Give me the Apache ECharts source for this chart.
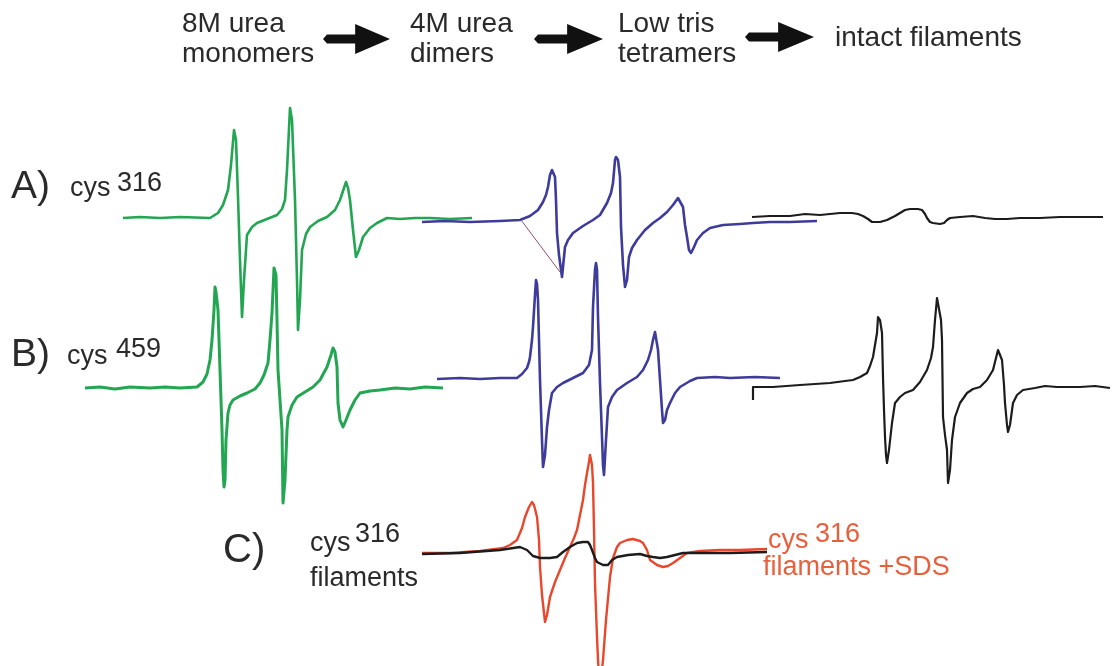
<!DOCTYPE html>
<html>
<head>
<meta charset="utf-8">
<script src="https://cdn.jsdelivr.net/npm/echarts@6/dist/echarts.min.js"></script>
<style>
html,body{margin:0;padding:0;background:#fff;}
#chart{width:1114px;height:666px;}
</style>
</head>
<body>
<div id="chart"></div>
<script>
// Stage labels (top row)
const stageLine1 = ['8M urea', '4M urea', 'Low tris', 'intact filaments'];
const stageLine2 = ['monomers', 'dimers', 'tetramers', ''];

// Row labels
const rowLetters = ['A)', 'B)', 'C)'];
const rowResidues = ['316', '459', '316'];

// Spectra, as [field position, signal level] pairs
const specA_urea8M = [[123,218],[140,217],[160,218],[180,217],[210,218],[218,213],[223,205],[228,190],[231,165],[234,130],[236,140],[238,197],[240,260],[242,317],[244,280],[247,235],[252,227],[257,223],[267,219],[277,215],[282,209],[285,200],[287,170],[290,108],[292,120],[295,200],[297,280],[298,330],[300,300],[302,250],[306,234],[310,227],[318,221],[327,217],[335,210],[340,200],[344,188],[346,182],[348,188],[350,200],[353,230],[356,257],[359,250],[363,237],[370,228],[377,223],[387,218],[400,219],[415,218],[430,218],[450,219],[472,218]];
const specA_urea4M = [[422,222],[445,221],[470,222],[500,221],[520,220],[530,216],[538,210],[543,202],[546,195],[548,187],[550,175],[552,170],[554,170],[555,177],[556,200],[557,233],[559,255],[562,277],[563,275],[565,247],[568,240],[573,233],[583,226],[593,220],[600,215],[607,203],[611,193],[613,183],[615,160],[616,157],[618,160],[620,177],[621,227],[623,265],[625,287],[627,280],[629,257],[632,248],[637,240],[645,230],[653,223],[660,218],[667,212],[673,205],[678,198],[680,199],[683,207],[685,225],[687,237],[689,250],[691,253],[694,247],[697,240],[703,233],[710,228],[723,225],[740,224],[753,223],[770,222],[790,222],[817,221]];
const specA_guide = [[521,220],[560,272]];
const specA_filaments = [[752,217],[770,216],[790,216],[805,214],[820,215],[840,213],[852,213],[858,214],[863,216],[868,219],[872,222],[880,222],[887,220],[895,216],[900,213],[905,210],[910,209],[918,209],[922,210],[925,214],[927,218],[930,222],[933,223],[940,224],[944,223],[947,220],[950,218],[960,217],[973,216],[985,218],[995,219],[1007,219],[1020,218],[1040,218],[1060,217],[1080,217],[1103,217]];

const specB_urea8M = [[85,388],[100,387],[115,389],[130,387],[150,388],[165,387],[180,388],[197,387],[203,382],[207,374],[210,360],[212,340],[214,310],[215,287],[216,292],[218,310],[219,340],[220,370],[221,400],[222,430],[223,470],[224,487],[225,480],[226,440],[228,413],[230,405],[233,400],[240,396],[247,393],[255,389],[260,383],[264,375],[268,363],[270,340],[272,313],[274,268],[276,275],[277,320],[278,370],[280,400],[282,430],[283,503],[285,480],[287,430],[288,417],[292,405],[297,397],[305,392],[313,387],[320,380],[327,367],[331,355],[333,348],[335,352],[337,367],[338,403],[340,420],[343,427],[346,420],[350,410],[355,400],[360,393],[370,391],[380,390],[395,388],[410,389],[425,387],[443,388]];
const specB_urea4M = [[437,379],[460,378],[480,379],[500,378],[517,378],[522,374],[527,368],[529,362],[530,357],[532,340],[533,327],[535,295],[536,280],[537,284],[538,300],[539,340],[540,380],[542,440],[543,467],[545,455],[547,427],[549,410],[552,393],[557,387],[563,383],[573,378],[583,373],[589,365],[592,350],[593,307],[595,270],[596,263],[597,270],[598,317],[599,350],[600,383],[602,437],[603,465],[604,475],[606,440],[608,407],[612,397],[617,390],[627,383],[637,377],[643,370],[648,360],[651,350],[653,340],[655,332],[656,334],[658,350],[660,380],[662,410],[663,423],[665,420],[667,410],[670,403],[675,393],[680,387],[690,381],[697,378],[715,377],[730,378],[755,377],[780,378]];
const specB_filaments = [[753,400],[753,387],[773,387],[800,385],[815,384],[830,383],[845,381],[853,380],[860,377],[867,373],[870,366],[873,357],[875,345],[877,333],[878,317],[880,320],[882,333],[883,377],[884,410],[885,437],[886,455],[887,463],[889,450],[892,423],[895,403],[900,397],[905,393],[913,390],[920,382],[927,370],[931,358],[933,347],[935,320],[937,298],[939,300],[941,320],[942,340],[943,417],[945,435],[947,450],[948,483],[950,470],[952,440],[955,417],[960,403],[967,393],[973,389],[980,387],[987,380],[993,370],[996,358],[998,350],[1000,352],[1002,360],[1004,385],[1005,403],[1007,425],[1008,432],[1010,425],[1013,403],[1017,395],[1023,390],[1035,388],[1045,386],[1057,387],[1080,387],[1095,386],[1110,388]];

const specC_sds = [[422,553],[450,553],[480,551],[503,548],[510,545],[517,540],[522,528],[525,517],[529,507],[532,502],[534,505],[537,517],[539,540],[540,567],[542,595],[545,622],[547,615],[550,597],[555,582],[560,570],[565,558],[570,547],[574,538],[577,530],[580,515],[583,500],[585,485],[587,473],[589,462],[590,455],[592,465],[593,483],[594,530],[595,583],[596,610],[597,637],[598,660],[600,690],[603,660],[606,620],[610,577],[613,558],[617,547],[620,543],[627,540],[633,539],[640,541],[643,543],[647,550],[650,560],[657,565],[663,567],[668,566],[673,563],[680,558],[687,553],[700,551],[720,550],[740,550],[767,549]];
const specC_filaments = [[422,554],[460,553],[500,550],[520,547],[527,550],[533,556],[540,558],[550,558],[557,557],[563,552],[570,547],[577,543],[583,542],[588,542],[590,545],[592,550],[595,558],[597,562],[603,565],[608,565],[612,560],[617,557],[628,555],[640,554],[647,556],[653,557],[660,558],[667,557],[675,555],[683,553],[700,553],[730,553],[767,552]];

const GREEN = '#22a651', BLUE = '#3d3b9c', BLACK = '#1c1c1c', RED = '#e8472b';
const TXT = '#2a2a2a', RTXT = '#e85f3c';
const FONT = '"Liberation Sans", Arial, Helvetica, sans-serif';

function line(data, color, width, z) {
  return { type: 'line', data: data, showSymbol: false, symbol: 'none', clip: true,
    lineStyle: { color: color, width: width, join: 'round' }, z: z || 2, silent: true };
}

function txt(t, x, y, size, color) {
  return { type: 'text', x: x, y: y, silent: true,
    style: { text: t, font: size + 'px ' + FONT, fill: color || TXT, textAlign: 'left', textVerticalAlign: 'middle' } };
}
function arrow(x0, x1, y) {
  const hb = x0 + (x1 - x0) * 0.48;
  return { type: 'polygon', silent: true,
    shape: { points: [[x0 + 4, y - 4.5], [hb, y - 4.5], [hb, y - 15], [x1, y], [hb, y + 15], [hb, y + 4.5], [x0 + 4, y + 4.5], [x0, y]] },
    style: { fill: '#111' } };
}

const graphics = [];
const stageX = [182, 410, 618, 835];
stageLine1.forEach((s, i) => graphics.push(txt(s, stageX[i], i === 3 ? 38 : 24, 28)));
stageLine2.forEach((s, i) => { if (s) graphics.push(txt(s, stageX[i], 54, 28)); });
graphics.push(arrow(323, 390, 39), arrow(534, 603, 39), arrow(745, 814, 37));
graphics.push(txt(rowLetters[0], 11, 187, 39), txt('cys', 70, 189, 27), txt(rowResidues[0], 117, 184, 27));
graphics.push(txt(rowLetters[1], 11, 355, 39), txt('cys', 67, 357, 27), txt(rowResidues[1], 116, 350, 27));
graphics.push(txt(rowLetters[2], 223, 551, 40), txt('cys', 310, 544, 27), txt(rowResidues[2], 355, 535, 27), txt('filaments', 310, 579, 27));
graphics.push(txt('cys', 768, 541, 27, RTXT), txt(rowResidues[2], 815, 535, 27, RTXT), txt('filaments +SDS', 763, 568, 27, RTXT));

const chart = echarts.init(document.getElementById('chart'), null, { renderer: 'canvas' });
chart.setOption({
  animation: false,
  backgroundColor: '#ffffff',
  grid: { left: 0, right: 0, top: 0, bottom: 0 },
  xAxis: { type: 'value', min: 0, max: 1114, show: false },
  yAxis: { type: 'value', min: 0, max: 666, inverse: true, show: false },
  series: [
    line(specA_urea4M, BLUE, 2.6, 2),
    line(specA_guide, '#8a5070', 1, 2),
    line(specA_urea8M, GREEN, 2.6, 3),
    line(specA_filaments, BLACK, 2.2, 2),
    line(specB_urea8M, GREEN, 3, 2),
    line(specB_urea4M, BLUE, 2.6, 2),
    line(specB_filaments, BLACK, 2.2, 2),
    line(specC_sds, RED, 2.4, 2),
    line(specC_filaments, BLACK, 2.4, 3)
  ],
  graphic: graphics
});
</script>
</body>
</html>
